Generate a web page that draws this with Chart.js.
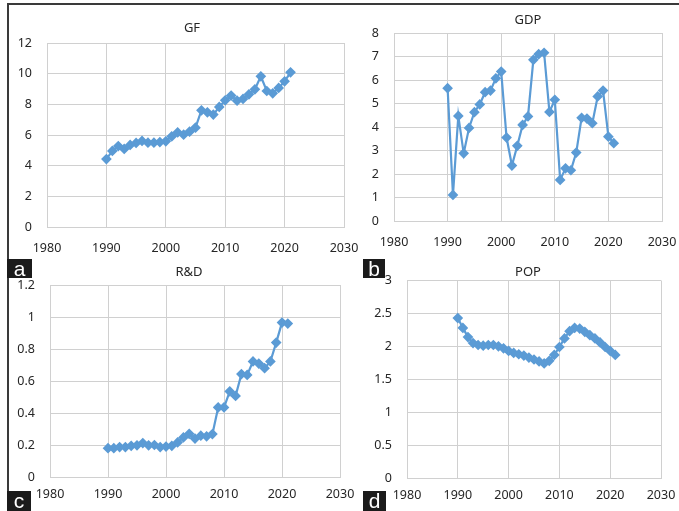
<!DOCTYPE html>
<html>
<head>
<meta charset="utf-8">
<script src="https://cdn.jsdelivr.net/npm/chart.js@4.4.0/dist/chart.umd.min.js"></script>
<style>
  body { margin: 0; background: #fff; }
  #wrap { position: relative; width: 679px; height: 511px; overflow: hidden; background: #fff; }
  canvas { position: absolute; }
  .frame { position: absolute; background: #3a3a3a; }
  .tag { position: absolute; background: #1b1b1b; color: #fff; font-family: "Liberation Sans", Arial, sans-serif;
         font-size: 21px; line-height: 19px; text-align: center; }
</style>
</head>
<body>
<div id="wrap">
  <div class="frame" style="left:7px; top:3px; width:672px; height:1.5px;"></div>
  <div class="frame" style="left:7px; top:3px; width:1.5px; height:508px;"></div>
  <canvas id="cA"></canvas>
  <canvas id="cB"></canvas>
  <canvas id="cC"></canvas>
  <canvas id="cD"></canvas>
  <div class="tag" style="left:7px; top:259px; width:25px; height:19px;">a</div>
  <div class="tag" style="left:363px; top:259px; width:22px; height:19px;">b</div>
  <div class="tag" style="left:7px; top:491px; width:24px; height:20px;">c</div>
  <div class="tag" style="left:363px; top:491px; width:23px; height:20px;">d</div>
</div>
<script>
// data
const years = [1990, 1991, 1992, 1993, 1994, 1995, 1996, 1997, 1998, 1999, 2000,
               2001, 2002, 2003, 2004, 2005, 2006, 2007, 2008, 2009, 2010,
               2011, 2012, 2013, 2014, 2015, 2016, 2017, 2018, 2019, 2020, 2021];
const gf  = [4.43, 4.96, 5.28, 5.09, 5.35, 5.48, 5.61, 5.5, 5.5, 5.54, 5.59,
             5.91, 6.17, 6.02, 6.22, 6.48, 7.61, 7.48, 7.33, 7.83, 8.26,
             8.57, 8.24, 8.35, 8.65, 8.98, 9.83, 8.87, 8.72, 9.07, 9.5, 10.09];
const gdp = [5.65, 1.11, 4.47, 2.88, 3.96, 4.63, 4.96, 5.48, 5.55, 6.07, 6.36,
             3.55, 2.36, 3.2, 4.09, 4.45, 6.86, 7.1, 7.16, 4.64, 5.16,
             1.75, 2.24, 2.16, 2.91, 4.39, 4.36, 4.16, 5.3, 5.55, 3.59, 3.31];
const rd  = [0.18, 0.18, 0.187, 0.187, 0.195, 0.198, 0.212, 0.198, 0.2, 0.187, 0.19,
             0.195, 0.216, 0.247, 0.27, 0.24, 0.258, 0.254, 0.268, 0.435, 0.435,
             0.535, 0.507, 0.643, 0.638, 0.722, 0.709, 0.68, 0.722, 0.84, 0.965, 0.959];
const pop = [2.43, 2.28, 2.14, 2.05, 2.02, 2.01, 2.02, 2.02, 2.0, 1.97, 1.93,
             1.9, 1.88, 1.86, 1.83, 1.8, 1.77, 1.74, 1.78, 1.87, 1.99,
             2.12, 2.23, 2.28, 2.27, 2.22, 2.17, 2.12, 2.06, 1.99, 1.93, 1.87];
const xMin = 1980, xMax = 2030, xStep = 10;

const blue = '#5b9bd5';
const gridCol = '#d0d0d0';
const txt = '#262626';
const font = { family: '"Noto Sans", "Open Sans", sans-serif', size: 12.5 };

// p: canvas box + layout tweaks for each panel
// yW = left axis width, rW = empty right box so the title sits where it does in the picture
function panel(id, p, title, values, yMax, yStep) {
  const cv = document.getElementById(id);
  cv.style.left = p.left + 'px';
  cv.style.top = p.top + 'px';
  cv.width = p.w; cv.height = p.h;
  cv.style.width = p.w + 'px'; cv.style.height = p.h + 'px';
  new Chart(cv, {
    type: 'scatter',
    data: {
      datasets: [{
        data: years.map((y, i) => ({ x: y, y: values[i] })),
        showLine: true,
        borderColor: blue,
        backgroundColor: blue,
        borderWidth: 2.2,
        pointStyle: 'rectRot',
        pointRadius: 3.8,
        pointHoverRadius: 3.8
      }]
    },
    options: {
      responsive: false,
      animation: false,
      devicePixelRatio: 1,
      layout: { padding: { left: 0, right: p.padR, top: 0, bottom: 0 } },
      plugins: {
        legend: { display: false },
        tooltip: { enabled: false },
        title: {
          display: true, text: title, color: txt,
          font: { family: font.family, size: 13, weight: 'normal', lineHeight: 1.2 },
          padding: { top: p.tTop, bottom: p.tBot }
        }
      },
      scales: {
        x: {
          type: 'linear', min: xMin, max: xMax,
          ticks: { stepSize: xStep, color: txt, font: font, padding: p.xPad, maxRotation: 0,
                   callback: v => String(v) },
          grid: { color: gridCol, lineWidth: 1, drawTicks: false },
          border: { color: gridCol, width: 1 },
          afterFit: s => { s.height = p.xH; }
        },
        y: {
          min: 0, max: yMax,
          ticks: { stepSize: yStep, color: txt, font: font, padding: 15,
                   callback: v => String(Number(v.toFixed(2))) },
          grid: { color: gridCol, lineWidth: 1, drawTicks: false },
          border: { color: gridCol, width: 1 },
          afterFit: s => { s.width = p.yW; }
        },
        yRight: {
          position: 'right', min: 0, max: 1,
          ticks: { display: false },
          grid: { display: false, drawTicks: false },
          border: { display: false },
          afterFit: s => { s.width = p.rW; }
        }
      }
    }
  });
}

panel('cA', { left: 0, top: 0, w: 400, h: 262, padR: 16, yW: 47, rW: 40, tTop: 20, tBot: 7.4, xH: 35, xPad: 14 },
      'GF', gf, 12, 2);
panel('cB', { left: 360, top: 0, w: 352, h: 262, padR: 16, yW: 34, rW: 34, tTop: 12, tBot: 5.4, xH: 41, xPad: 14 },
      'GDP', gdp, 8, 1);
panel('cC', { left: 0, top: 258, w: 394, h: 253, padR: 16, yW: 50, rW: 38, tTop: 6, tBot: 5.4, xH: 34, xPad: 10 },
      'R&D', rd, 1.2, 0.2);
panel('cD', { left: 355, top: 258, w: 362, h: 253, padR: 16, yW: 52, rW: 40, tTop: 6, tBot: 0.4, xH: 33, xPad: 10 },
      'POP', pop, 3, 0.5);
</script>
</body>
</html>
